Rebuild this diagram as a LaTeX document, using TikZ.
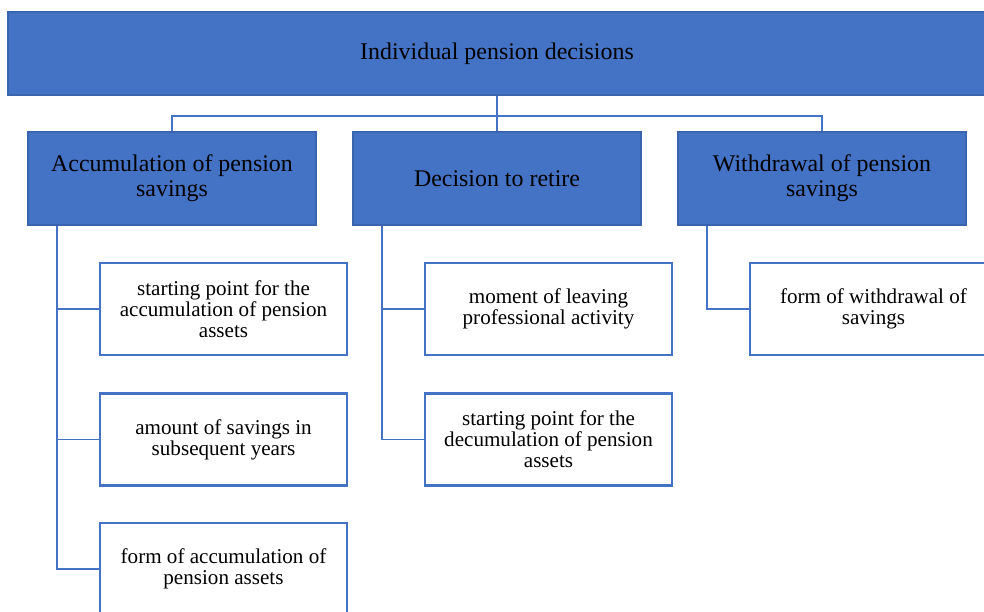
\documentclass[tikz,border=0pt]{standalone}
\usepackage{fontspec}
\setmainfont{Liberation Serif}
\usetikzlibrary{positioning}
\definecolor{pnblue}{HTML}{4472C4}
\definecolor{pnedge}{HTML}{3A64AE}

\begin{document}
\begin{tikzpicture}[x=0.025cm, y=-0.025cm,
    head/.style={fill=pnblue, draw=pnedge, line width=1.2pt, align=center, inner sep=2pt},
    lvl/.style={head, minimum width=7.2cm, minimum height=2.325cm, font=\fontsize{17}{18}\selectfont},
    leaf/.style={draw=pnblue, line width=1.8pt, fill=white, align=center, minimum width=6.175cm, minimum height=2.3cm, font=\fontsize{15}{15}\selectfont},
    conn/.style={draw=pnblue, line width=1.4pt}]
    \clip (0,0) rectangle (984,611);
    \node[head, minimum width=24.45cm, minimum height=2.075cm, font=\fontsize{17}{18}\selectfont] (top) at (497,53.5) {Individual pension decisions};
    \node[lvl] (acc) at (172,178.5) {Accumulation of pension\\savings};
    \node[lvl] (ret) at (497,178.5) {Decision to retire};
    \node[lvl] (wdr) at (822,178.5) {Withdrawal of pension\\savings};
    \node[leaf] (acc1) at (223.5,309) {starting point for the\\accumulation of pension\\assets};
    \node[leaf] (acc2) at (223.5,439.5) {amount of savings in\\subsequent years};
    \node[leaf] (acc3) at (223.5,569) {form of accumulation of\\pension assets};
    \node[leaf] (ret1) at (548.5,309) {moment of leaving\\professional activity};
    \node[leaf] (ret2) at (548.5,439.5) {starting point for the\\decumulation of pension\\assets};
    \node[leaf] (wdr1) at (873.5,309) {form of withdrawal of\\savings};
    % tree lines
    \coordinate (bus) at (497,116);
    \draw[conn] (top.south) -- (ret.north);
    \draw[conn] (acc.north) |- (bus) -| (wdr.north);
    \foreach \n in {acc1,acc2,acc3}
      \draw[conn] ([xshift=0.75cm]acc.south west) |- (\n.west);
    \foreach \n in {ret1,ret2}
      \draw[conn] ([xshift=0.75cm]ret.south west) |- (\n.west);
    \draw[conn] ([xshift=0.75cm]wdr.south west) |- (wdr1.west);
  \end{tikzpicture}
\end{document}
